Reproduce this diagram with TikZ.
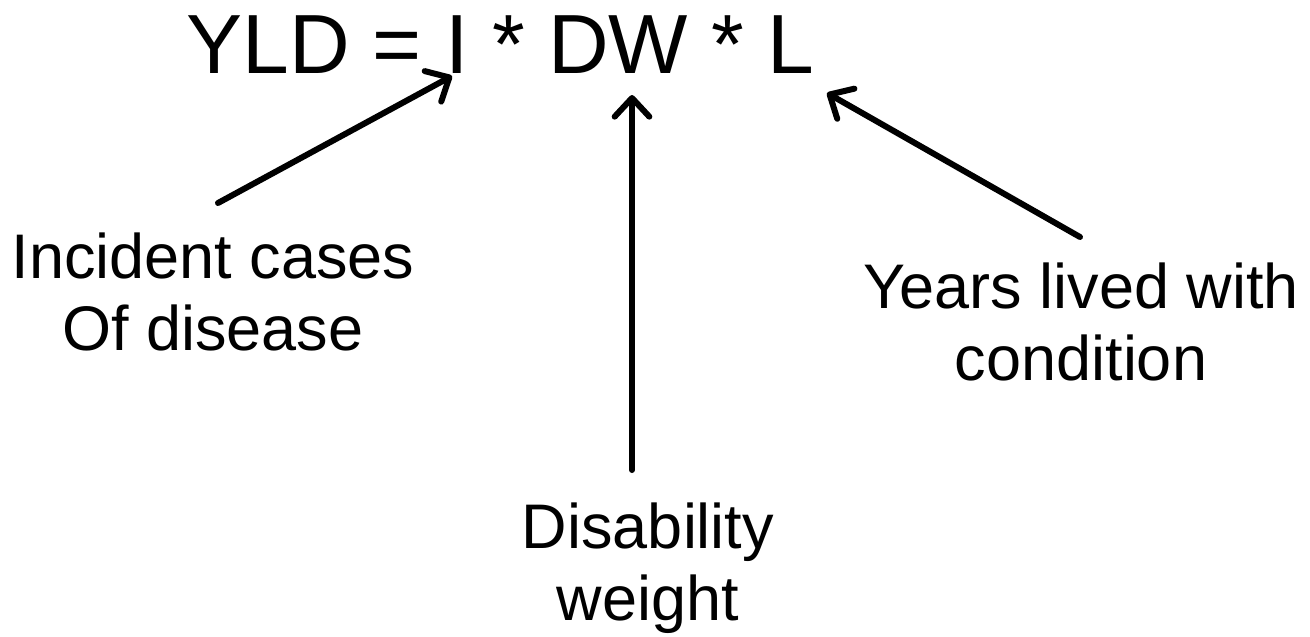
\documentclass[tikz,border=0pt]{standalone}
\usepackage{fontspec}
\setmainfont{Liberation Sans}
\usetikzlibrary{arrows.meta}
\begin{document}
\begin{tikzpicture}[x=0.75pt,y=-0.75pt,
  lbl/.style={inner sep=0pt, align=center, anchor=base, font=\fontsize{47.25}{54}\selectfont},
  ttl/.style={inner sep=0pt, anchor=base west, font=\fontsize{63}{72}\selectfont},
  conn/.style={line width=4.5pt, line cap=round,
    -{Straight Barb[length=14pt, width=26pt, line cap=round, line join=round]}}]
\useasboundingbox (0,0) rectangle (1310,636);
\node[ttl] (title) at (186,73) {YLD = I * DW * L};
\node[lbl] (inc) at (213,350) {Incident cases\\Of disease};
\node[lbl] (dw) at (648,620) {Disability\\weight};
\node[lbl] (yrs) at (1081,380) {Years lived with\\condition};
\coordinate (incS) at (218,203);
\coordinate (incT) at (452,76);
\coordinate (dwS) at (632,470);
\coordinate (dwT) at (632,95);
\coordinate (yrsS) at (1080,237);
\coordinate (yrsT) at (827,93);
\draw[conn] (incS) -- (incT);
\draw[conn] (dwS) -- (dwT);
\draw[conn] (yrsS) -- (yrsT);
\end{tikzpicture}
\end{document}
